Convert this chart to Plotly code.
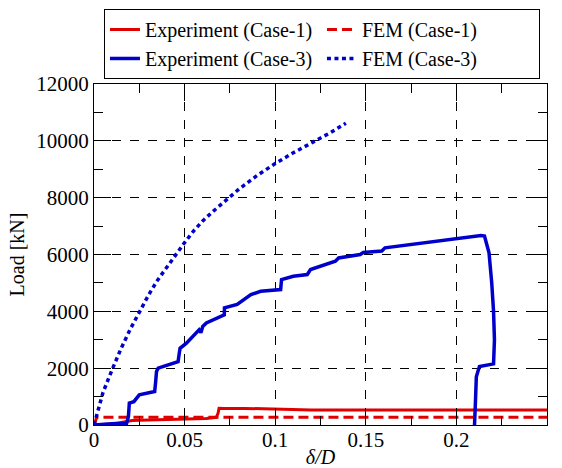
import plotly.graph_objects as go

# Experiment (Case-1)
exp1_x = [0, 0.003, 0.008, 0.011, 0.015, 0.018, 0.021, 0.03, 0.04, 0.05, 0.0555, 0.062, 0.0675, 0.0685, 0.069, 0.072, 0.083, 0.101, 0.12, 0.15, 0.18, 0.21, 0.23, 0.25]
exp1_y = [0, 10, 20, 40, 90, 130, 160, 175, 185, 195, 200, 230, 270, 420, 590, 580, 585, 555, 530, 530, 525, 525, 525, 525]

# FEM (Case-1)
fem1_x = [0, 0.0015, 0.25]
fem1_y = [0, 275, 275]

# Experiment (Case-3)
exp3_x = [0, 0.005, 0.012, 0.018, 0.019, 0.0195, 0.022, 0.025, 0.0335, 0.034, 0.0345, 0.0354,
          0.0464, 0.047, 0.0475, 0.051, 0.058, 0.059, 0.06, 0.062, 0.0719, 0.072, 0.079, 0.0866,
          0.092, 0.103, 0.1035, 0.110, 0.1177, 0.1195, 0.1332, 0.135, 0.1469, 0.1486, 0.1588,
          0.1606, 0.174, 0.2, 0.2136, 0.2155, 0.218, 0.2195, 0.2205, 0.221, 0.2205, 0.2127,
          0.211, 0.2105, 0.21]
exp3_y = [0, 30, 50, 60, 300, 770, 820, 1060, 1180, 1500, 1880, 2000,
          2230, 2500, 2700, 2880, 3350, 3250, 3470, 3590, 3880, 4120, 4240, 4590,
          4705, 4765, 5120, 5235, 5295, 5470, 5765, 5880, 6000, 6070, 6120,
          6235, 6350, 6550, 6670, 6650, 6060, 5000, 4000, 3000, 2150, 2060,
          1700, 800, 0]

# FEM (Case-3)
fem3_x = [0, 0.002, 0.005, 0.01, 0.015, 0.02, 0.025, 0.03, 0.035, 0.04, 0.045, 0.05, 0.055,
          0.06, 0.065, 0.07, 0.075, 0.08, 0.09, 0.10, 0.11, 0.12, 0.13, 0.139]
fem3_y = [0, 450, 1150, 1950, 2700, 3370, 3980, 4560, 5090, 5540, 5970, 6420, 6830,
          7180, 7480, 7760, 8040, 8300, 8780, 9200, 9580, 9920, 10270, 10620]

x_ticks = [0, 0.05, 0.1, 0.15, 0.2, 0.25]
x_ticklabels = ["0", "0.05", "0.1", "0.15", "0.2", "0.25"]
y_ticks = [0, 2000, 4000, 6000, 8000, 10000, 12000]
y_ticklabels = ["0", "2000", "4000", "6000", "8000", "10000", "12000"]

RED = "#e00000"
BLUE = "#0000cc"
FONT = "Liberation Serif, Times New Roman, serif"

fig = go.Figure()
fig.add_trace(go.Scatter(x=exp1_x, y=exp1_y, mode="lines", name="Experiment (Case-1)",
                         line=dict(color=RED, width=3)))
fig.add_trace(go.Scatter(x=fem1_x, y=fem1_y, mode="lines", name="FEM (Case-1)",
                         line=dict(color=RED, width=3, dash="10px,5px")))
fig.add_trace(go.Scatter(x=exp3_x, y=exp3_y, mode="lines", name="Experiment (Case-3)",
                         line=dict(color=BLUE, width=3.5)))
fig.add_trace(go.Scatter(x=fem3_x, y=fem3_y, mode="lines", name="FEM (Case-3)",
                         line=dict(color=BLUE, width=3.5, dash="4px,3.5px")))

axis_common = dict(
    showline=True, linecolor="black", linewidth=1, mirror="ticks",
    ticks="inside", ticklen=17, tickcolor="black", tickwidth=1,
    showgrid=True, gridcolor="black", gridwidth=1, griddash="dash",
    zeroline=False,
    tickfont=dict(family=FONT, size=21, color="black"),
)

fig.update_xaxes(**axis_common, range=[0, 0.2500001], tickvals=x_ticks, ticktext=x_ticklabels,
                 ticklabelstandoff=-4,
                 minor=dict(ticks="inside", ticklen=9, tickcolor="black", dtick=0.025, showgrid=False),
                 title=dict(text="<i>δ/D</i>", font=dict(family=FONT, size=20, color="black"), standoff=0))
fig.update_yaxes(**axis_common, range=[0, 12000.01], tickvals=y_ticks, ticktext=y_ticklabels,
                 minor=dict(ticks="inside", ticklen=9, tickcolor="black", dtick=1000, showgrid=False),
                 title=dict(text="Load [kN]", font=dict(family=FONT, size=20, color="black"), standoff=6))

fig.update_layout(
    width=562, height=468,
    margin=dict(l=94, r=15, t=84, b=43, autoexpand=False),
    paper_bgcolor="white", plot_bgcolor="white",
    font=dict(family=FONT, size=20, color="black"),
    legend=dict(orientation="h", x=0.022, y=1.22, xanchor="left", yanchor="top",
                bordercolor="black", borderwidth=1, bgcolor="white",
                entrywidth=172, entrywidthmode="pixels", tracegroupgap=0,
                font=dict(family=FONT, size=20, color="black")),
)

fig.write_html("out.html")
